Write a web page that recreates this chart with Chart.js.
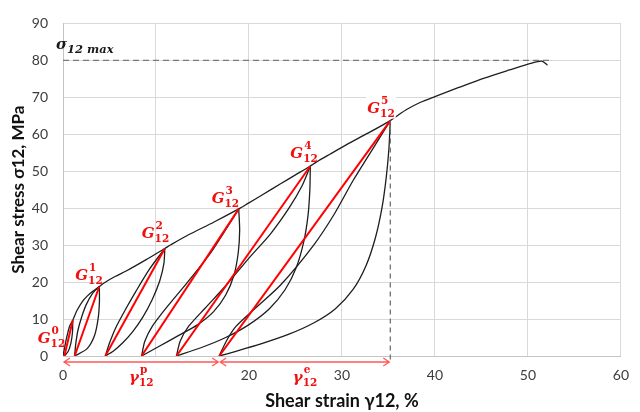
<!DOCTYPE html>
<html>
<head>
<meta charset="utf-8">
<script src="https://cdn.jsdelivr.net/npm/chart.js@4.4.1/dist/chart.umd.min.js"></script>
<style>
    html, body { margin: 0; padding: 0; background: #fff; }
    #wrap { width: 640px; height: 412px; }
</style>
</head>
<body>
<div id="wrap"><canvas id="shearChart"></canvas></div>
<script>
// Peak of each cycle [strain %, stress MPa] (G12^0 ... G12^5)
const peaks = [[1.05, 9.7], [3.9, 18.8], [10.95, 29.1], [18.9, 39.8], [26.6, 51.4], [35.2, 63.7]];
// Strain where each unloading returns to zero stress (start of each red modulus line)
const origins = [0.15, 1.25, 4.55, 8.45, 12.2, 16.8];
const sigmaMax = 80;
const sigmaMaxEnd = 52.7;

// Monotonic loading envelope
const envelope = [[0, 0], [0.35, 4.5], [0.7, 8], [1.05, 9.7], [1.5, 12.3], [2.1, 14.8], [2.6, 16.2], [3.2, 17.5],
    [3.9, 18.8], [4.5, 19.9], [5.6, 21.5], [6.8, 23], [8.9, 26], [10.95, 29.1], [11.6, 30.1], [13.5, 32.8], [16.2, 36.2],
    [18.9, 39.8], [19.9, 41.3], [21.5, 43.7], [23.4, 46.6], [25, 49], [26.6, 51.4], [27.2, 52.4], [28.7, 54.6],
    [30.5, 57.2], [32.8, 60.3], [35.2, 63.7], [36.1, 65.3], [37.1, 66.9], [38.4, 68.6], [40, 70.2], [42.5, 72.6],
    [45.3, 75.2], [48, 77.4], [50.3, 79.2], [51.5, 79.8], [52.1, 78.7]];

// Unloading branches (peak -> zero stress)
const unload0 = [[1.05, 9.7], [1.02, 6.5], [0.85, 3.5], [0.55, 1.2], [0.15, 0]];
const unload1 = [[3.9, 18.8], [3.92, 15], [3.8, 10.5], [3.4, 5.6], [2.6, 2], [1.25, 0]];
const unload2 = [[10.95, 29.1], [10.85, 25], [10.4, 20.3], [9.6, 15.3], [8.6, 10.6], [7.5, 6.6], [6.4, 3.5], [5.4, 1.3], [4.55, 0]];
const unload3 = [[18.9, 39.8], [19.0, 34], [18.85, 28], [18.4, 22], [17.5, 16.5], [16.2, 12], [14.5, 8.5], [12.4, 5.5], [10.4, 2.7], [8.45, 0]];
const unload4 = [[26.6, 51.4], [26.55, 45], [26.35, 38], [25.9, 31], [25.1, 24], [23.9, 18], [22.2, 12.8], [20, 8.5], [17.5, 5], [14.9, 2.3], [12.2, 0]];
const unload5 = [[35.2, 63.7], [35.05, 56], [34.75, 48], [34.3, 40], [33.6, 32], [32.6, 24.5], [31.2, 18], [29.3, 12.8],
    [27, 9], [24.3, 5.9], [21.2, 3.2], [18.5, 1.2], [16.8, 0]];

// Reloading branches (zero stress -> peak)
const reload1 = [[1.25, 0], [1.36, 3], [1.6, 6.9], [2.0, 10.5], [2.5, 13.9], [3.2, 17], [3.9, 18.8]];
const reload2 = [[4.55, 0], [5.0, 3.5], [5.7, 7.8], [6.7, 12.5], [7.84, 17.5], [9.3, 23.5], [10.95, 29.1]];
const reload3 = [[8.45, 0], [8.8, 4], [9.6, 8], [11.1, 13], [13.4, 20], [15.9, 28], [17.7, 35], [18.9, 39.8]];
const reload4 = [[12.2, 0], [12.6, 4], [13.5, 8], [15.3, 13], [17.5, 19], [20, 26.5], [22.3, 33], [24.3, 40], [25.7, 46], [26.6, 51.4]];
const reload5 = [[16.8, 0], [17.6, 4.2], [18.6, 8], [20.5, 12.5], [23.4, 19.2], [26.9, 29.8], [29.2, 38.5], [31.2, 47.5], [33.3, 56], [35.2, 63.7]];

const xTicks = [0, 10, 20, 30, 40, 50, 60];
const yTicks = [0, 10, 20, 30, 40, 50, 60, 70, 80, 90];

const toXY = pts => pts.map(p => ({ x: p[0], y: p[1] }));

const RED = '#ff0000';
const INK = '#1e1e1e';

// red secant moduli first so they sit on top
const redLines = peaks.map((p, i) => ({
    data: toXY([[origins[i], 0], p]),
    borderColor: RED, borderWidth: 2, tension: 0
}));

const blackCurves = [envelope, unload0, unload1, unload2, unload3, unload4, unload5,
    reload1, reload2, reload3, reload4, reload5].map(c => ({
    data: toXY(c),
    borderColor: INK, borderWidth: 1.3, tension: 0.25
}));

const maxLine = {
    data: toXY([[0, sigmaMax], [sigmaMaxEnd, sigmaMax]]),
    borderColor: '#7a7a7a', borderWidth: 1.3, borderDash: [6, 4], tension: 0
};

// draws base glyph with stacked superscript / subscript
function drawSymbol(ctx, left, base, glyph, sup, sub, opts) {
    ctx.font = opts.bigFont;
    const gw = ctx.measureText(glyph).width;
    ctx.font = opts.smallFont;
    const supW = sup ? ctx.measureText(sup).width : 0;
    const subW = ctx.measureText(sub).width;
    const w = gw + Math.max(supW, subW);
    if (opts.box) {
        const extra = opts.boxExtra || 0;
        ctx.fillStyle = '#fff';
        ctx.fillRect(left - 1, base - 19, w + 2 + extra, 25);
    }
    ctx.fillStyle = opts.color;
    ctx.textBaseline = 'alphabetic';
    ctx.textAlign = 'left';
    ctx.font = opts.bigFont;
    ctx.fillText(glyph, left, base);
    ctx.font = opts.smallFont;
    if (sup) ctx.fillText(sup, left + gw + 1, base - 9);
    ctx.fillText(sub, left + gw, base + 4);
}

function drawDoubleArrow(ctx, a, b, yy) {
    ctx.beginPath();
    ctx.moveTo(a + 1, yy); ctx.lineTo(b - 1, yy);
    ctx.moveTo(a + 7, yy - 4); ctx.lineTo(a + 1, yy); ctx.lineTo(a + 7, yy + 4);
    ctx.moveTo(b - 7, yy - 4); ctx.lineTo(b - 1, yy); ctx.lineTo(b - 7, yy + 4);
    ctx.stroke();
}

// G label placement relative to its peak: [dx to left of G, dy to baseline]
const gLabelShift = [[-35, 23], [-24, -7], [-23, -10], [-27, -6], [-20, -8], [-23, -8]];

const annotations = {
    id: 'annotations',
    afterDatasetsDraw(chart) {
        const { ctx, chartArea, scales } = chart;
        const sx = scales.x, sy = scales.y;
        const last = peaks[peaks.length - 1];
        const xe = sx.getPixelForValue(last[0]);
        const xp = sx.getPixelForValue(origins[origins.length - 1]);
        const x0 = sx.getPixelForValue(0);
        const ay = chartArea.bottom + 6;
        ctx.save();

        // elastic strain guide
        ctx.strokeStyle = '#666';
        ctx.lineWidth = 1.2;
        ctx.setLineDash([5, 4]);
        ctx.beginPath();
        ctx.moveTo(xe, sy.getPixelForValue(last[1]));
        ctx.lineTo(xe, ay);
        ctx.stroke();
        ctx.setLineDash([]);

        // plastic / elastic strain arrows
        ctx.strokeStyle = '#ff5a5a';
        ctx.lineWidth = 1.3;
        drawDoubleArrow(ctx, x0, xp, ay);
        drawDoubleArrow(ctx, xp, xe, ay);

        const gOpts = { bigFont: 'italic bold 15px "DejaVu Serif"', smallFont: 'bold 10.5px "DejaVu Serif"', color: '#f01010' };
        // strain labels sit on a white box (it hides the "10" tick like in the source figure)
        ['p', 'e'].forEach((s, i) => {
            const mid = i === 0 ? (x0 + xp) / 2 : (xp + xe) / 2;
            drawSymbol(ctx, mid - 12, chartArea.bottom + 26, 'γ', s, '12',
                { ...gOpts, box: true, boxExtra: i === 0 ? 12 : 0 });
        });

        // sigma max label
        drawSymbol(ctx, x0 - 7, sy.getPixelForValue(sigmaMax) - 11, 'σ', '', '12 max',
            { bigFont: 'italic bold 15px "DejaVu Serif"', smallFont: 'italic bold 11.5px "DejaVu Serif"', color: '#1a1a1a' });

        // modulus labels (only the last one needs a knock-out behind it)
        peaks.forEach((p, i) => {
            const px = sx.getPixelForValue(p[0]), py = sy.getPixelForValue(p[1]);
            drawSymbol(ctx, px + gLabelShift[i][0], py + gLabelShift[i][1], 'G', String(i), '12',
                { ...gOpts, box: i === peaks.length - 1 });
        });
        ctx.restore();
    }
};

const tickFont = { family: 'Lato', size: 14 };

new Chart(document.getElementById('shearChart').getContext('2d'), {
    type: 'scatter',
    data: { datasets: [...redLines, maxLine, ...blackCurves] },
    options: {
        responsive: true,
        maintainAspectRatio: false,
        animation: false,
        showLine: true,
        elements: { point: { radius: 0, hoverRadius: 0 } },
        layout: { padding: { top: 16, right: 16, left: 0, bottom: 0 } },
        plugins: { legend: { display: false }, tooltip: { enabled: false } },
        scales: {
            x: {
                type: 'linear', min: 0, max: 60,
                afterBuildTicks: s => { s.ticks = xTicks.map(v => ({ value: v })); },
                afterFit: s => { s.height = 56; },
                ticks: { font: tickFont, color: '#3c3c3c', padding: 11 },
                grid: { color: '#d9d9d9', drawTicks: false },
                border: { color: '#c4c4c4' },
                title: { display: true, text: 'Shear strain γ12, %', color: '#111',
                    font: { family: 'Lato', size: 18, weight: 'bold' }, padding: { top: 0, bottom: 0 } }
            },
            y: {
                type: 'linear', min: 0, max: 90,
                afterBuildTicks: s => { s.ticks = yTicks.map(v => ({ value: v })); },
                afterFit: s => { s.width = 63; },
                ticks: { font: tickFont, color: '#3c3c3c', padding: 15 },
                grid: { color: '#d9d9d9', drawTicks: false },
                border: { color: '#c4c4c4' },
                title: { display: true, text: 'Shear stress σ12, MPa', color: '#111',
                    font: { family: 'Lato', size: 17, weight: 'bold' }, padding: { top: 8, bottom: 0 } }
            }
        }
    },
    plugins: [annotations]
});
</script>
</body>
</html>
